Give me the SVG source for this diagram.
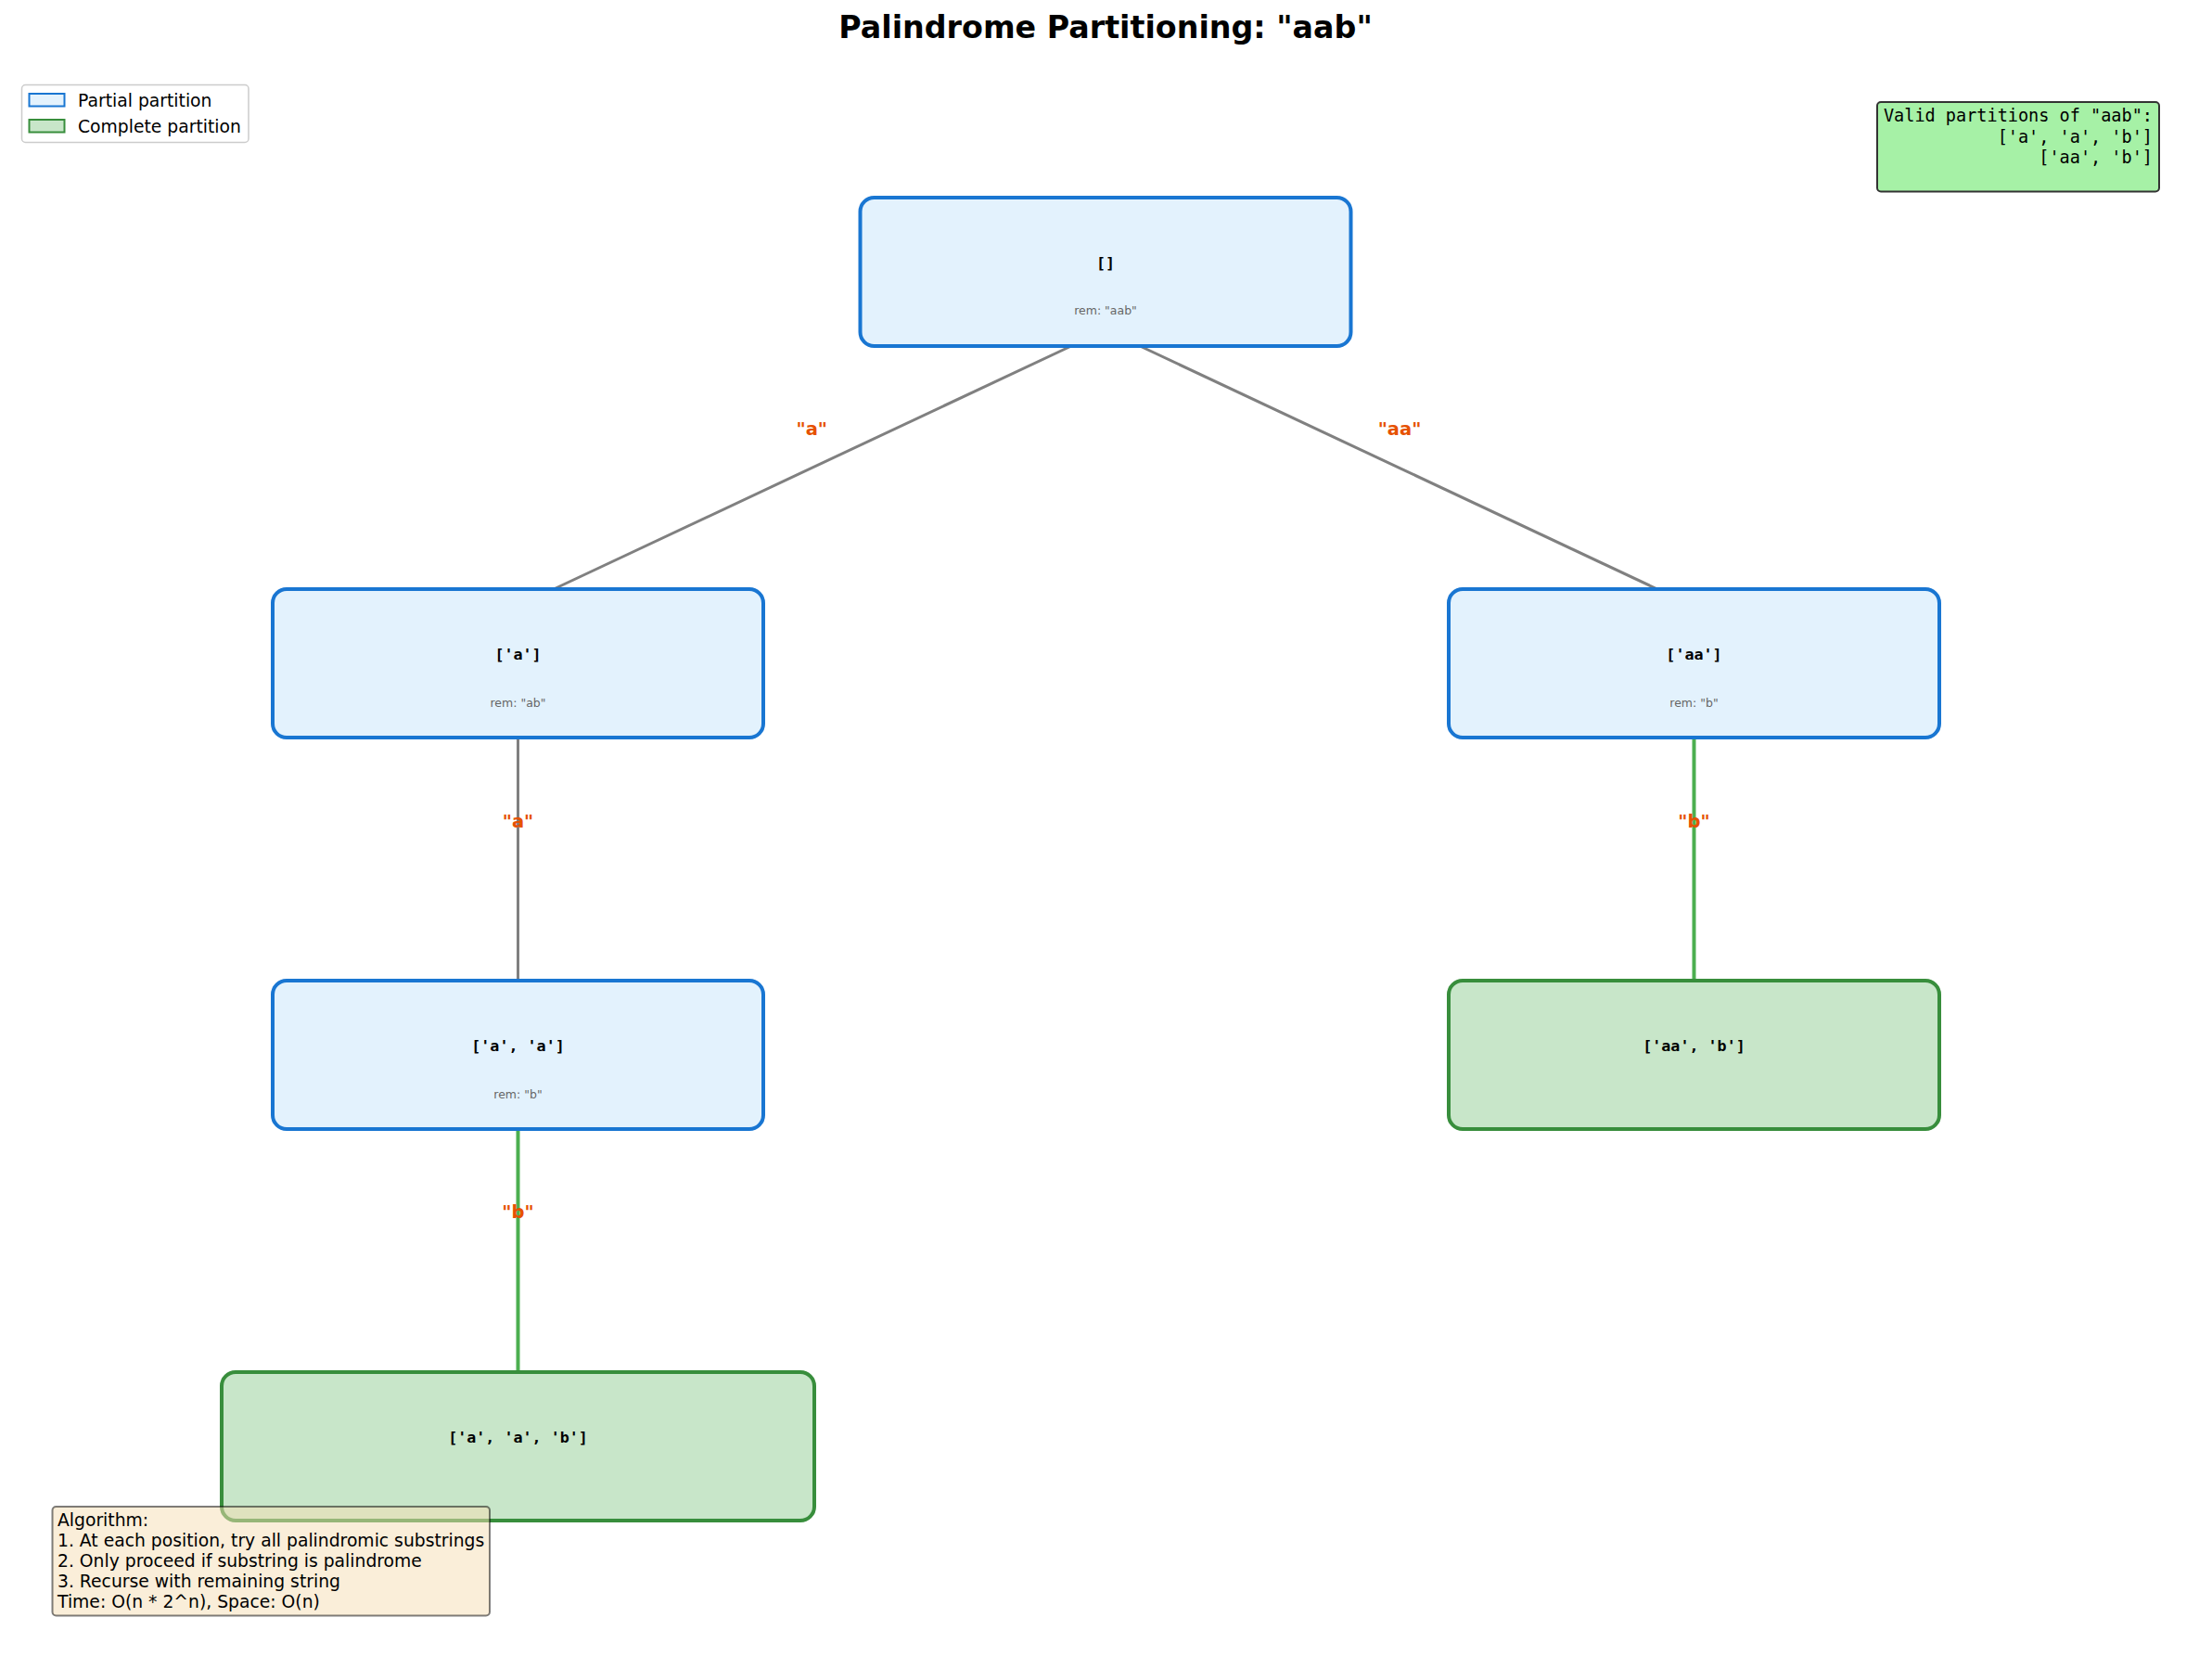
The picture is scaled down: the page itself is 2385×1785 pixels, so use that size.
<svg xmlns="http://www.w3.org/2000/svg" width="2385" height="1785" viewBox="0 0 2385 1785">
<style>
.partial{fill:#E3F2FD;stroke:#1976D2;stroke-width:4}
.complete{fill:#C8E6C9;stroke:#388E3C;stroke-width:4}
.lbl{font-family:"DejaVu Sans Mono",monospace;font-weight:bold;font-size:16.7px;fill:#000;text-anchor:middle;dominant-baseline:central}
.rem{font-family:"DejaVu Sans",sans-serif;font-size:12.5px;fill:#666;text-anchor:middle}
.gray{stroke:#808080;stroke-width:3;fill:none}
.green{stroke:#4CAF50;stroke-width:4;fill:none}
.elbl{font-family:"DejaVu Sans",sans-serif;font-weight:bold;font-size:19.5px;fill:#E65100;text-anchor:middle}
.sans{font-family:"DejaVu Sans",sans-serif;font-size:18.75px;fill:#000}
.mono{font-family:"DejaVu Sans Mono",monospace;font-size:18.55px;fill:#000;text-anchor:end}
</style>
<rect width="2385" height="1785" fill="#fff"/>
<text x="1192" y="41" font-family="DejaVu Sans, sans-serif" font-weight="bold" font-size="33.3" text-anchor="middle">Palindrome Partitioning: "aab"</text>

<g id="connectors">
<line class="gray" x1="1172" y1="365" x2="580" y2="643"/>
<line class="gray" x1="1212" y1="365" x2="1804" y2="643"/>
<line class="gray" x1="558.5" y1="790" x2="558.5" y2="1062"/>
<line class="green" x1="1826.5" y1="790" x2="1826.5" y2="1062"/>
<line class="green" x1="558.5" y1="1212" x2="558.5" y2="1484"/>
<text class="elbl" x="875.3" y="469">"a"</text>
<text class="elbl" x="1509" y="469">"aa"</text>
<text class="elbl" x="558.5" y="892">"a"</text>
<text class="elbl" x="1826.5" y="892">"b"</text>
<text class="elbl" x="558.5" y="1313">"b"</text>
</g>

<g id="node-root">
<rect class="partial" x="927.5" y="213" width="529" height="160" rx="15"/>
<text class="lbl" x="1192" y="283">[]</text>
<text class="rem" x="1192" y="339">rem: "aab"</text>
</g>
<g id="node-a">
<rect class="partial" x="294" y="635" width="529" height="160" rx="15"/>
<text class="lbl" x="558.5" y="705">['a']</text>
<text class="rem" x="558.5" y="761.5">rem: "ab"</text>
</g>
<g id="node-aa">
<rect class="partial" x="1562" y="635" width="529" height="160" rx="15"/>
<text class="lbl" x="1826.5" y="705">['aa']</text>
<text class="rem" x="1826.5" y="761.5">rem: "b"</text>
</g>
<g id="node-a-a">
<rect class="partial" x="294" y="1057" width="529" height="160" rx="15"/>
<text class="lbl" x="558.5" y="1127">['a', 'a']</text>
<text class="rem" x="558.5" y="1183.5">rem: "b"</text>
</g>
<g id="node-aa-b">
<rect class="complete" x="1562" y="1057" width="529" height="160" rx="15"/>
<text class="lbl" x="1826.5" y="1127">['aa', 'b']</text>
</g>
<g id="node-a-a-b">
<rect class="complete" x="239" y="1479" width="639" height="160" rx="15"/>
<text class="lbl" x="558.5" y="1549">['a', 'a', 'b']</text>
</g>

<g id="legend">
<rect x="23.5" y="91.5" width="244.5" height="62" rx="4" fill="#fff" fill-opacity="0.8" stroke="#cccccc" stroke-width="1.5"/>
<rect x="31.5" y="101" width="38" height="13.5" fill="#E3F2FD" stroke="#1976D2" stroke-width="2"/>
<rect x="31.5" y="129" width="38" height="13.5" fill="#C8E6C9" stroke="#388E3C" stroke-width="2"/>
<text class="sans" x="84" y="115">Partial partition</text>
<text class="sans" x="84" y="142.5">Complete partition</text>
</g>

<g id="valid-box">
<rect x="2024" y="110" width="304" height="96.5" rx="4" fill="#A6F1A6" stroke="#333" stroke-width="2"/>
<text class="mono" x="2321" y="131">Valid partitions of "aab":</text>
<text class="mono" x="2321" y="153.7">['a', 'a', 'b']</text>
<text class="mono" x="2321" y="176.4">['aa', 'b']</text>
</g>

<g id="algorithm-box">
<rect x="56.5" y="1624" width="471.5" height="117.5" rx="4" fill="#F5DEB3" fill-opacity="0.5" stroke="#000" stroke-opacity="0.5" stroke-width="2"/>
<text class="sans" x="62" y="1645">Algorithm:</text>
<text class="sans" x="62" y="1667">1. At each position, try all palindromic substrings</text>
<text class="sans" x="62" y="1689">2. Only proceed if substring is palindrome</text>
<text class="sans" x="62" y="1711">3. Recurse with remaining string</text>
<text class="sans" x="62" y="1733">Time: O(n * 2^n), Space: O(n)</text>
</g>
</svg>
